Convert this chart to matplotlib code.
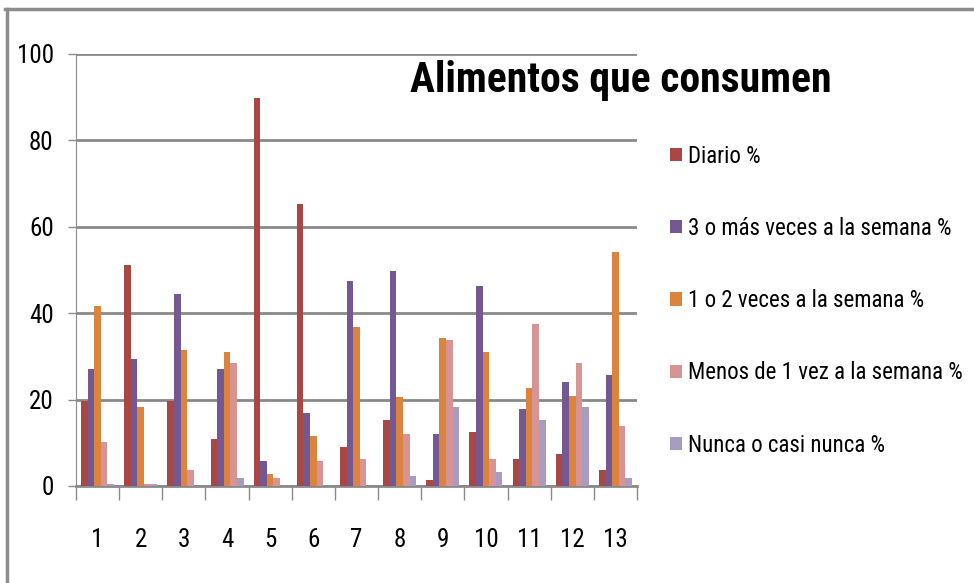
import matplotlib
matplotlib.use("Agg")
import matplotlib.pyplot as plt
from matplotlib.patches import Patch
from matplotlib.lines import Line2D
import numpy as np

plt.rcParams['font.family'] = ['Roboto Condensed', 'DejaVu Sans']

categories = ['1', '2', '3', '4', '5', '6', '7', '8', '9', '10', '11', '12', '13']
series_names = ['Diario %', '3 o más veces a la semana %', '1 o 2 veces a la semana %',
                'Menos de 1 vez a la semana %', 'Nunca o casi nunca %']
diario = [19.7, 51.1, 19.7, 10.8, 89.7, 65.3, 9.0, 15.2, 1.3, 12.5, 6.2, 7.5, 3.6]
tres_mas = [27.1, 29.4, 44.5, 27.1, 5.8, 17.0, 47.5, 49.8, 12.0, 46.2, 17.8, 24.0, 25.8]
uno_dos = [41.7, 18.2, 31.5, 31.1, 2.7, 11.6, 36.9, 20.5, 34.3, 31.1, 22.7, 20.9, 54.2]
menos_uno = [10.2, 0.5, 3.6, 28.5, 1.8, 5.8, 6.2, 12.0, 33.8, 6.2, 37.4, 28.5, 13.8]
nunca = [0.4, 0.5, 0.0, 1.8, 0.0, 0.0, 0.0, 2.3, 18.2, 3.2, 15.2, 18.2, 1.8]

colors = ['#A94745', '#735892', '#DC843E', '#D69594', '#A99CC3']
grid_c = '#8a8a8a'

fig = plt.figure(figsize=(9.74, 5.83), dpi=100)
ax = fig.add_axes([0.078, 0.1664, 0.576, 0.741])

x = np.arange(len(categories))
w = 0.153
data = [diario, tres_mas, uno_dos, menos_uno, nunca]
for i, vals in enumerate(data):
    ax.bar(x + (i - 2) * w, vals, width=w, color=colors[i], zorder=3)

ax.set_xlim(-0.5, len(categories) - 0.5)
ax.set_ylim(0, 100)
ax.set_yticks(range(0, 101, 20))
ax.yaxis.grid(True, color=grid_c, linewidth=2, zorder=0)
ax.tick_params(axis='y', length=6, width=1, color=grid_c, pad=10, labelsize=18)

ax.set_xticks(np.arange(-0.5, len(categories), 1))
ax.set_xticklabels([])
ax.set_xticks(x, minor=True)
ax.set_xticklabels(categories, minor=True)
ax.tick_params(axis='x', which='major', length=10, width=1, color=grid_c)
ax.tick_params(axis='x', which='minor', length=0, pad=30, labelsize=18)

for s in ['top', 'right']:
    ax.spines[s].set_visible(False)
ax.spines['left'].set_color(grid_c)
ax.spines['bottom'].set_color(grid_c)
ax.spines['bottom'].set_linewidth(2)

fig.text(0.637, 0.862, 'Alimentos que consumen', ha='center', va='center',
         fontsize=30, fontweight='bold')

handles = [Patch(facecolor=c, edgecolor='none') for c in colors]
fig.legend(handles, series_names, loc='upper left', bbox_to_anchor=(0.688, 0.752),
           frameon=False, fontsize=16.5, labelspacing=2.15, handlelength=0.5,
           handleheight=0.5, handletextpad=0.3, borderaxespad=0, borderpad=0)

# outer border (top and left edges of the frame)
fig.add_artist(Line2D([0.005, 1.0], [0.9846, 0.9846], transform=fig.transFigure,
                      color='#8c8c8c', linewidth=2.5))
fig.add_artist(Line2D([0.0075, 0.0075], [0.0, 0.9846], transform=fig.transFigure,
                      color='#8c8c8c', linewidth=2.5))

fig.savefig('out.png', dpi=100)
